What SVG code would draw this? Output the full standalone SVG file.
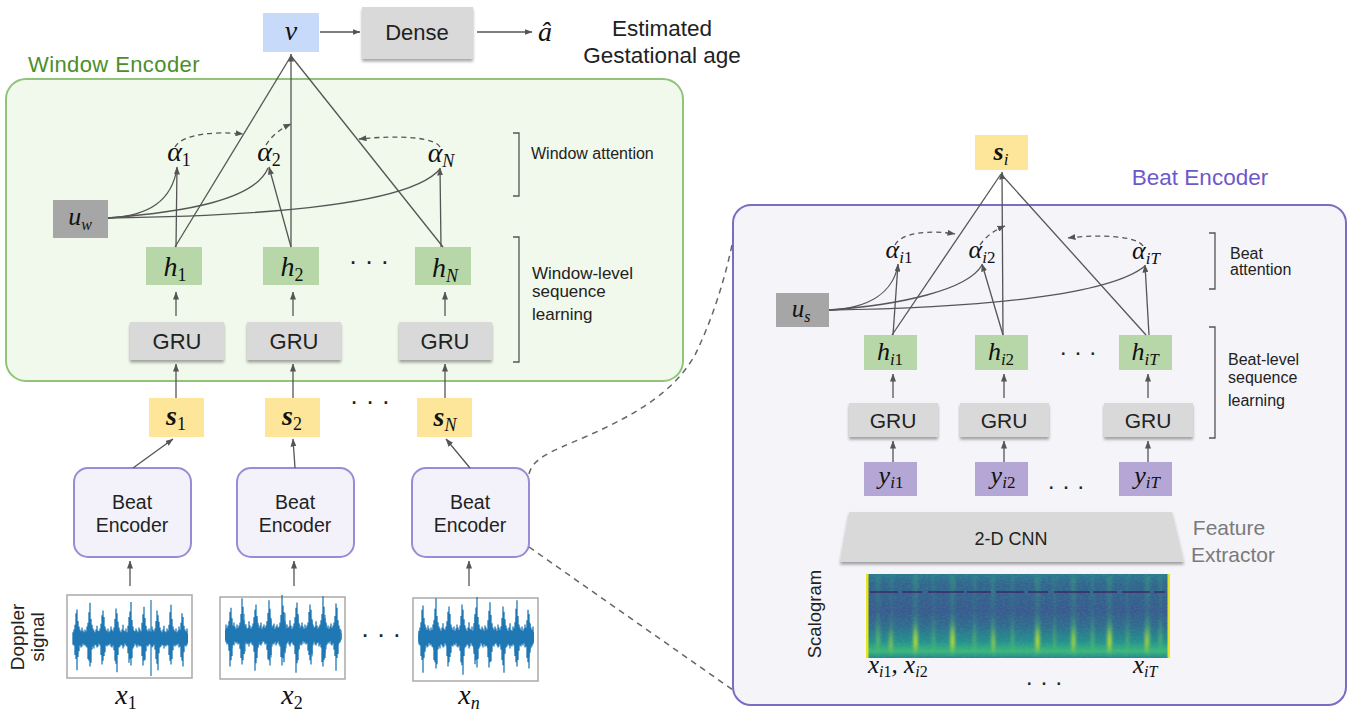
<svg xmlns="http://www.w3.org/2000/svg" xmlns:xlink="http://www.w3.org/1999/xlink" width="1355" height="711" viewBox="0 0 1355 711">
  <style>
    .sans { font-family: "Liberation Sans", Arial, sans-serif; fill: #222; }
    .math { font-family: "Liberation Serif", "Times New Roman", serif; font-style: italic; fill: #111; }
    .up { font-style: normal; }
    .line { fill: none; stroke: #555; stroke-width: 1.3; }
    .dash { fill: none; stroke: #555; stroke-width: 1.3; stroke-dasharray: 5 4; }
    .xdash { fill: none; stroke: #666; stroke-width: 1.5; stroke-dasharray: 6 5; }
    .gru { fill: #d9d9d9; filter: url(#shadow); }
    .hbox { fill: #b7d7a8; }
    .sbox { fill: #fde59a; }
    .ubox { fill: #a6a6a6; }
    .ybox { fill: #b4a7d6; }
    .benc { fill: #f3f2fa; stroke: #9b8bd6; stroke-width: 2; }
    .sig { fill: #fff; stroke: #a9a9a9; stroke-width: 1.5; }
    .brk { fill: none; stroke: #555; stroke-width: 1.3; }
  </style>
  <defs>
    <filter id="shadow" x="-10%" y="-20%" width="120%" height="150%">
      <feDropShadow dx="0" dy="2.5" stdDeviation="1.5" flood-color="#000" flood-opacity="0.35"/>
    </filter>
    <filter id="soft" x="-20%" y="-5%" width="140%" height="110%">
      <feGaussianBlur stdDeviation="1.4 2"/>
    </filter>
    <filter id="speckle" x="0" y="0" width="100%" height="100%">
      <feTurbulence type="fractalNoise" baseFrequency="0.35 0.6" numOctaves="2" seed="7"/>
      <feColorMatrix type="matrix" values="0 0 0 0 0.25  0 0 0 0 0.45  0 0 0 0 0.6  0 0 0 0.9 -0.35"/>
    </filter>
    <marker id="arr" markerUnits="userSpaceOnUse" markerWidth="8" markerHeight="6" refX="7.5" refY="3" orient="auto">
      <path d="M0,0 L8,3 L0,6 z" fill="#555"/>
    </marker>
    <linearGradient id="scaloBase" x1="0" y1="0" x2="0" y2="1">
      <stop offset="0" stop-color="#2a7a8e"/>
      <stop offset="0.12" stop-color="#31668e"/>
      <stop offset="0.45" stop-color="#375b8d"/>
      <stop offset="0.62" stop-color="#2f6c8e"/>
      <stop offset="0.8" stop-color="#238f8c"/>
      <stop offset="0.92" stop-color="#3bb77a"/>
      <stop offset="1" stop-color="#24878e"/>
    </linearGradient>
    <linearGradient id="streak" x1="0" y1="0" x2="0" y2="1">
      <stop offset="0" stop-color="#3fbc73" stop-opacity="0.35"/>
      <stop offset="0.45" stop-color="#35b779" stop-opacity="0.15"/>
      <stop offset="0.8" stop-color="#7ad151" stop-opacity="0.75"/>
      <stop offset="1" stop-color="#35b779" stop-opacity="0.2"/>
    </linearGradient>
    <linearGradient id="hot" x1="0" y1="0" x2="0" y2="1">
      <stop offset="0" stop-color="#fde725" stop-opacity="0"/>
      <stop offset="0.65" stop-color="#e5e419" stop-opacity="0.8"/>
      <stop offset="1" stop-color="#fde725" stop-opacity="0"/>
    </linearGradient>
    <!-- one Doppler waveform trace, centred on y=0 -->
    <g id="wave">
      <rect x="0" y="-5" width="115" height="10" fill="#1f77b4"/>
      <path fill="none" stroke="#1f77b4" stroke-width="1.3" d="M0 -6V7M1 -9V8M2 -14V18M3 -26V22M4 -30V34M5 -18V20M6 -12V14M7 -9V8M8 -7V10M9 -11V9M10 -8V6M11 -6V8M12 -9V7M13 -7V9M14 -12V10M15 -16V22M16 -27V24M17 -37V30M18 -20V26M19 -14V12M20 -10V9M21 -8V11M22 -6V7M23 -9V8M24 -13V10M25 -8V9M26 -7V6M27 -10V8M28 -15V18M29 -24V28M30 -29V24M31 -22V19M32 -12V15M33 -9V8M34 -7V9M35 -10V7M36 -6V8M37 -8V6M38 -12V9M39 -9V10M40 -7V8M41 -11V13M42 -20V24M43 -31V27M44 -26V36M45 -17V18M46 -11V10M47 -8V9M48 -6V7M49 -9V8M50 -14V11M51 -8V9M52 -7V6M53 -10V8M54 -6V9M55 -13V16M56 -22V26M57 -28V22M58 -38V29M59 -19V21M60 -12V11M61 -8V9M62 -7V6M63 -10V8M64 -8V10M65 -6V7M66 -11V9M67 -9V8M68 -7V9M69 -16V19M70 -25V29M71 -33V24M72 -21V23M73 -13V14M74 -9V8M75 -7V9M76 -10V7M77 -8V6M78 -6V8M79 -12V10M80 -9V9M81 -7V7M82 -10V12M83 -18V22M84 -29V27M85 -24V34M86 -17V16M87 -11V10M88 -8V9M89 -6V7M90 -9V8M91 -13V11M92 -7V8M93 -6V9M94 -10V7M95 -8V8M96 -14V18M97 -27V24M98 -35V28M99 -20V22M100 -12V13M101 -9V8M102 -7V9M103 -10V7M104 -6V8M105 -8V6M106 -12V10M107 -9V9M108 -16V20M109 -26V24M110 -22V30M111 -13V15M112 -9V8M113 -7V9M114 -10V7"/>
    </g>
  </defs>

  <!-- ============ Window encoder panel ============ -->
  <g id="window-encoder">
    <rect x="6" y="79" width="677" height="302" rx="20" fill="#f1f8ec" stroke="#8fc47a" stroke-width="2"/>
    <text class="sans" x="28" y="72" font-size="22" letter-spacing="0.4" style="fill:#4a8f2a">Window Encoder</text>
  </g>

  <!-- ============ Beat encoder panel ============ -->
  <g id="beat-encoder-panel">
    <rect x="733" y="205" width="613" height="500" rx="18" fill="#f4f4f9" stroke="#7d6bc4" stroke-width="2"/>
    <text class="sans" x="1200" y="185" font-size="22.5" text-anchor="middle" style="fill:#6f58c9">Beat Encoder</text>
  </g>

  <!-- ============ Output ============ -->
  <g id="node-v">
    <rect x="263" y="13" width="56" height="39" fill="#c8dafa"/>
    <text class="math" x="291" y="40" font-size="28" text-anchor="middle">v</text>
  </g>
  <g id="node-dense">
    <rect class="gru" x="362" y="7" width="111" height="52"/>
    <text class="sans" x="417" y="40" font-size="22" text-anchor="middle">Dense</text>
  </g>
  <g id="node-ahat">
    <text class="math" x="545" y="41" font-size="28" text-anchor="middle">â</text>
  </g>
  <g id="label-output">
    <text class="sans" x="662" y="36" font-size="22.5" text-anchor="middle">Estimated</text>
    <text class="sans" x="662" y="63" font-size="22.5" text-anchor="middle">Gestational age</text>
  </g>

  <!-- ============ Window attention ============ -->
  <g id="node-uw">
    <rect class="ubox" x="53" y="200" width="55" height="38"/>
    <text class="math" x="80" y="225" font-size="26" text-anchor="middle">u<tspan font-size="16" dy="5">w</tspan></text>
  </g>
  <g id="node-alpha1">
    <text class="math" x="179" y="161" font-size="28" text-anchor="middle">α<tspan class="up" font-size="18" dy="5">1</tspan></text>
  </g>
  <g id="node-alpha2">
    <text class="math" x="269" y="161" font-size="28" text-anchor="middle">α<tspan class="up" font-size="18" dy="5">2</tspan></text>
  </g>
  <g id="node-alphaN">
    <text class="math" x="441" y="162" font-size="28" text-anchor="middle">α<tspan font-size="18" dy="5">N</tspan></text>
  </g>
  <g id="label-window-attention">
    <path class="brk" d="M513,133 H519 V196 H513"/>
    <text class="sans" x="531" y="159" font-size="16">Window attention</text>
  </g>

  <!-- hidden states -->
  <g id="node-h1">
    <rect class="hbox" x="146" y="247" width="56" height="38"/>
    <text class="math" x="175" y="276" font-size="28" text-anchor="middle">h<tspan class="up" font-size="18" dy="5">1</tspan></text>
  </g>
  <g id="node-h2">
    <rect class="hbox" x="263" y="247" width="56" height="38"/>
    <text class="math" x="292" y="276" font-size="28" text-anchor="middle">h<tspan class="up" font-size="18" dy="5">2</tspan></text>
  </g>
  <g id="node-hN">
    <rect class="hbox" x="415" y="247" width="56" height="38"/>
    <text class="math" x="445" y="277" font-size="28" text-anchor="middle">h<tspan font-size="18" dy="5">N</tspan></text>
  </g>
  <g id="dots-h">
    <text class="sans" x="369" y="270" font-size="26" text-anchor="middle">· · ·</text>
  </g>
  <g id="label-window-level">
    <path class="brk" d="M513,237 H519 V362 H513"/>
    <text class="sans" x="532" y="279" font-size="17">Window-level</text>
    <text class="sans" x="532" y="297" font-size="17">sequence</text>
    <text class="sans" x="532" y="320" font-size="17">learning</text>
  </g>

  <!-- window GRUs -->
  <g id="node-gru-w1">
    <rect class="gru" x="130" y="322" width="94" height="38"/>
    <text class="sans" x="177" y="349" font-size="22" text-anchor="middle">GRU</text>
  </g>
  <g id="node-gru-w2">
    <rect class="gru" x="247" y="322" width="94" height="38"/>
    <text class="sans" x="294" y="349" font-size="22" text-anchor="middle">GRU</text>
  </g>
  <g id="node-gru-wN">
    <rect class="gru" x="399" y="322" width="93" height="38"/>
    <text class="sans" x="445" y="349" font-size="22" text-anchor="middle">GRU</text>
  </g>

  <!-- beat vectors -->
  <g id="node-s1">
    <rect class="sbox" x="149" y="398" width="55" height="39"/>
    <text class="math" x="176" y="425" font-size="28" font-weight="bold" text-anchor="middle">s<tspan class="up" font-weight="normal" font-size="18" dy="5">1</tspan></text>
  </g>
  <g id="node-s2">
    <rect class="sbox" x="265" y="398" width="55" height="39"/>
    <text class="math" x="292" y="425" font-size="28" font-weight="bold" text-anchor="middle">s<tspan class="up" font-weight="normal" font-size="18" dy="5">2</tspan></text>
  </g>
  <g id="node-sN">
    <rect class="sbox" x="417" y="398" width="55" height="39"/>
    <text class="math" x="445" y="426" font-size="28" font-weight="bold" text-anchor="middle">s<tspan font-weight="normal" font-size="18" dy="5">N</tspan></text>
  </g>
  <g id="dots-s">
    <text class="sans" x="370" y="410" font-size="26" text-anchor="middle">· · ·</text>
  </g>

  <!-- beat encoders -->
  <g id="node-benc1">
    <rect class="benc" x="74" y="468" width="117" height="89" rx="14"/>
    <text class="sans" x="132" y="509" font-size="19.5" text-anchor="middle">Beat</text>
    <text class="sans" x="132" y="532" font-size="19.5" text-anchor="middle">Encoder</text>
  </g>
  <g id="node-benc2">
    <rect class="benc" x="237" y="468" width="117" height="89" rx="14"/>
    <text class="sans" x="295" y="509" font-size="19.5" text-anchor="middle">Beat</text>
    <text class="sans" x="295" y="532" font-size="19.5" text-anchor="middle">Encoder</text>
  </g>
  <g id="node-benc3">
    <rect class="benc" x="412" y="468" width="117" height="89" rx="14"/>
    <text class="sans" x="470" y="509" font-size="19.5" text-anchor="middle">Beat</text>
    <text class="sans" x="470" y="532" font-size="19.5" text-anchor="middle">Encoder</text>
  </g>

  <!-- Doppler signals -->
  <g id="node-sig1">
    <rect class="sig" x="67" y="595" width="125" height="83"/>
    <use xlink:href="#wave" transform="translate(73,638) scale(1,0.95)"/>
    <path d="M151,600 V676" stroke="#1f77b4" stroke-width="1.2"/>
    <text class="math" x="126" y="704" font-size="28" text-anchor="middle">x<tspan class="up" font-size="18" dy="5">1</tspan></text>
  </g>
  <g id="node-sig2">
    <rect class="sig" x="220" y="597" width="125" height="82"/>
    <use xlink:href="#wave" transform="translate(340,635) scale(-1,1.05)"/>
    <use xlink:href="#wave" transform="translate(227,636) scale(1,0.6)" opacity="0.8"/>
    <text class="math" x="292" y="704" font-size="28" text-anchor="middle">x<tspan class="up" font-size="18" dy="5">2</tspan></text>
  </g>
  <g id="node-sig3">
    <rect class="sig" x="413" y="598" width="125" height="83"/>
    <use xlink:href="#wave" transform="translate(419,637) scale(1,1.05)"/>
    <use xlink:href="#wave" transform="translate(533,638) scale(-1,0.55)" opacity="0.8"/>
    <text class="math" x="469" y="704" font-size="28" text-anchor="middle">x<tspan font-size="18" dy="5">n</tspan></text>
  </g>
  <g id="dots-x">
    <text class="sans" x="381" y="643" font-size="26" text-anchor="middle">· · ·</text>
  </g>
  <g id="label-doppler">
    <text class="sans" transform="translate(24,637) rotate(-90)" font-size="19" text-anchor="middle">Doppler</text>
    <text class="sans" transform="translate(44,637) rotate(-90)" font-size="19" text-anchor="middle">signal</text>
  </g>

  <!-- ============ Beat encoder internals ============ -->
  <g id="node-si">
    <rect class="sbox" x="975" y="135" width="53" height="35"/>
    <text class="math" x="1001" y="160" font-size="26" font-weight="bold" text-anchor="middle">s<tspan font-weight="normal" font-size="17" dy="5">i</tspan></text>
  </g>
  <g id="node-us">
    <rect class="ubox" x="776" y="293" width="53" height="34"/>
    <text class="math" x="801" y="317" font-size="25" text-anchor="middle">u<tspan font-size="16" dy="5">s</tspan></text>
  </g>
  <g id="node-alpha-i1">
    <text class="math" x="899" y="258" font-size="26" text-anchor="middle">α<tspan font-size="17" dy="5">i</tspan><tspan class="up" font-size="17">1</tspan></text>
  </g>
  <g id="node-alpha-i2">
    <text class="math" x="982" y="258" font-size="26" text-anchor="middle">α<tspan font-size="17" dy="5">i</tspan><tspan class="up" font-size="17">2</tspan></text>
  </g>
  <g id="node-alpha-iT">
    <text class="math" x="1146" y="259" font-size="26" text-anchor="middle">α<tspan font-size="17" dy="5">iT</tspan></text>
  </g>
  <g id="label-beat-attention">
    <path class="brk" d="M1209,233 H1215 V289 H1209"/>
    <text class="sans" x="1230" y="259" font-size="16">Beat</text>
    <text class="sans" x="1230" y="275" font-size="16">attention</text>
  </g>

  <g id="node-hi1">
    <rect class="hbox" x="864" y="335" width="53" height="35"/>
    <text class="math" x="890" y="360" font-size="26" text-anchor="middle">h<tspan font-size="17" dy="5">i</tspan><tspan class="up" font-size="17">1</tspan></text>
  </g>
  <g id="node-hi2">
    <rect class="hbox" x="975" y="335" width="53" height="35"/>
    <text class="math" x="1001" y="360" font-size="26" text-anchor="middle">h<tspan font-size="17" dy="5">i</tspan><tspan class="up" font-size="17">2</tspan></text>
  </g>
  <g id="node-hiT">
    <rect class="hbox" x="1119" y="335" width="53" height="35"/>
    <text class="math" x="1145" y="360" font-size="26" text-anchor="middle">h<tspan font-size="17" dy="5">iT</tspan></text>
  </g>
  <g id="dots-hi">
    <text class="sans" x="1078" y="360" font-size="24" text-anchor="middle">· · ·</text>
  </g>
  <g id="label-beat-level">
    <path class="brk" d="M1209,327 H1215 V438 H1209"/>
    <text class="sans" x="1228" y="365" font-size="16">Beat-level</text>
    <text class="sans" x="1228" y="383" font-size="16">sequence</text>
    <text class="sans" x="1228" y="406" font-size="16">learning</text>
  </g>

  <g id="node-gru-b1">
    <rect class="gru" x="849" y="403" width="89" height="34"/>
    <text class="sans" x="893" y="428" font-size="21" text-anchor="middle">GRU</text>
  </g>
  <g id="node-gru-b2">
    <rect class="gru" x="960" y="403" width="89" height="34"/>
    <text class="sans" x="1004" y="428" font-size="21" text-anchor="middle">GRU</text>
  </g>
  <g id="node-gru-bT">
    <rect class="gru" x="1104" y="403" width="89" height="34"/>
    <text class="sans" x="1148" y="428" font-size="21" text-anchor="middle">GRU</text>
  </g>

  <g id="node-yi1">
    <rect class="ybox" x="864" y="462" width="53" height="34"/>
    <text class="math" x="891" y="484" font-size="26" text-anchor="middle">y<tspan font-size="17" dy="4">i</tspan><tspan class="up" font-size="17">1</tspan></text>
  </g>
  <g id="node-yi2">
    <rect class="ybox" x="975" y="462" width="53" height="34"/>
    <text class="math" x="1003" y="484" font-size="26" text-anchor="middle">y<tspan font-size="17" dy="4">i</tspan><tspan class="up" font-size="17">2</tspan></text>
  </g>
  <g id="node-yiT">
    <rect class="ybox" x="1119" y="462" width="53" height="34"/>
    <text class="math" x="1147" y="484" font-size="26" text-anchor="middle">y<tspan font-size="17" dy="4">iT</tspan></text>
  </g>
  <g id="dots-y">
    <text class="sans" x="1066" y="494" font-size="24" text-anchor="middle">· · ·</text>
  </g>

  <g id="node-cnn">
    <path d="M849,512 L1172,512 L1184,562 L840,562 Z" fill="#d9d9d9" filter="url(#shadow)"/>
    <text class="sans" x="1011" y="545" font-size="18" text-anchor="middle">2-D CNN</text>
  </g>
  <g id="label-feature-extractor">
    <text class="sans" x="1229" y="535" font-size="21" text-anchor="middle" style="fill:#7a7a7a">Feature</text>
    <text class="sans" x="1233" y="562" font-size="21" text-anchor="middle" style="fill:#7a7a7a">Extractor</text>
  </g>

  <g id="node-scalogram">
    <rect x="866" y="574" width="304" height="84" fill="url(#scaloBase)"/>
    <rect x="866" y="574" width="304" height="84" filter="url(#speckle)" opacity="0.35"/>
    <!-- brighter vertical ridges -->
    <g fill="url(#streak)" filter="url(#soft)">
      <rect x="876" y="576" width="4" height="80" opacity="0.8"/>
      <rect x="890" y="576" width="3" height="80" opacity="0.6"/>
      <rect x="913" y="576" width="5" height="80"/>
      <rect x="932" y="576" width="3" height="80" opacity="0.6"/>
      <rect x="950" y="576" width="5" height="80"/>
      <rect x="973" y="576" width="3" height="80" opacity="0.7"/>
      <rect x="991" y="576" width="4" height="80" opacity="0.8"/>
      <rect x="1011" y="576" width="3" height="80" opacity="0.6"/>
      <rect x="1035" y="576" width="5" height="80"/>
      <rect x="1053" y="576" width="3" height="80" opacity="0.6"/>
      <rect x="1071" y="576" width="5" height="80"/>
      <rect x="1091" y="576" width="3" height="80" opacity="0.7"/>
      <rect x="1107" y="576" width="5" height="80"/>
      <rect x="1126" y="576" width="3" height="80" opacity="0.6"/>
      <rect x="1145" y="576" width="5" height="80"/>
      <rect x="1159" y="576" width="3" height="80" opacity="0.7"/>
    </g>
    <g fill="url(#hot)" filter="url(#soft)">
      <rect x="889" y="628" width="3" height="26" opacity="0.6"/>
      <rect x="914" y="624" width="3" height="30"/>
      <rect x="951" y="622" width="3" height="32"/>
      <rect x="992" y="628" width="3" height="26" opacity="0.6"/>
      <rect x="1036" y="624" width="3" height="30"/>
      <rect x="1072" y="626" width="3" height="28" opacity="0.7"/>
      <rect x="1108" y="624" width="3" height="30"/>
      <rect x="1145" y="626" width="3" height="28" opacity="0.7"/>
    </g>
    <path d="M870,592 H1165" stroke="#40195e" stroke-width="1.6" stroke-dasharray="28 4 20 6 36 3 24 5" opacity="0.8"/>
    <rect x="866" y="574" width="2.5" height="84" fill="#e8e41f"/>
    <rect x="1167.5" y="574" width="2.5" height="84" fill="#e8e41f"/>
    <text class="sans" transform="translate(821,614) rotate(-90)" font-size="18.5" text-anchor="middle">Scalogram</text>
  </g>
  <g id="label-xi">
    <text class="math" x="868" y="673" font-size="25">x<tspan font-size="16" dy="4">i</tspan><tspan class="up" font-size="16">1</tspan><tspan dy="-4">, x</tspan><tspan font-size="16" dy="4">i</tspan><tspan class="up" font-size="16">2</tspan></text>
    <text class="math" x="1133" y="673" font-size="25">x<tspan font-size="16" dy="4">iT</tspan></text>
    <text class="sans" x="1044" y="690" font-size="24" text-anchor="middle">· · ·</text>
  </g>

  <!-- ============ Connectors ============ -->
  <g id="connectors">
    <!-- output head -->
    <path class="line" d="M320,32 L360,32" marker-end="url(#arr)"/>
    <path class="line" d="M477,32 L532,32" marker-end="url(#arr)"/>
    <path class="line" d="M175,247 L291,56"/>
    <path class="line" d="M291,247 L291,54" marker-end="url(#arr)"/>
    <path class="line" d="M443,247 L291,56"/>

    <!-- window attention -->
    <path class="line" d="M176,247 L177,167" marker-end="url(#arr)"/>
    <path class="line" d="M291,247 L269,167" marker-end="url(#arr)"/>
    <path class="line" d="M441,247 L440,168" marker-end="url(#arr)"/>
    <path class="line" d="M108,218 C150,216 172,200 177,168"/>
    <path class="line" d="M108,218 C185,212 255,200 268,168"/>
    <path class="line" d="M108,218 C260,216 410,205 440,169"/>
    <path class="dash" d="M175,147 C182,134 215,131 243,134" marker-end="url(#arr)"/>
    <path class="dash" d="M266,145 C272,135 282,128 291,124" marker-end="url(#arr)"/>
    <path class="dash" d="M440,147 C434,137 400,135 359,139" marker-end="url(#arr)"/>

    <!-- window sequence -->
    <path class="line" d="M176,316 L176,292" marker-end="url(#arr)"/>
    <path class="line" d="M293,316 L293,292" marker-end="url(#arr)"/>
    <path class="line" d="M445,316 L445,292" marker-end="url(#arr)"/>
    <path class="line" d="M176,398 L176,364" marker-end="url(#arr)"/>
    <path class="line" d="M293,398 L293,364" marker-end="url(#arr)"/>
    <path class="line" d="M445,398 L445,364" marker-end="url(#arr)"/>
    <path class="line" d="M133,468 L173,439" marker-end="url(#arr)"/>
    <path class="line" d="M295,468 L293,439" marker-end="url(#arr)"/>
    <path class="line" d="M470,468 L446,439" marker-end="url(#arr)"/>
    <path class="line" d="M130,586 L130,561" marker-end="url(#arr)"/>
    <path class="line" d="M294,586 L294,561" marker-end="url(#arr)"/>
    <path class="line" d="M469,586 L469,561" marker-end="url(#arr)"/>

    <!-- zoom-in guides -->
    <path class="xdash" d="M529,474 C533,458 550,452 585,437 C640,413 675,390 695,355 C712,320 725,280 733,240"/>
    <path class="xdash" d="M529,547 L733,690"/>

    <!-- beat encoder head -->
    <path class="line" d="M892,335 L1001,174"/>
    <path class="line" d="M1003,335 L1002,172" marker-end="url(#arr)"/>
    <path class="line" d="M1146,335 L1001,174"/>

    <!-- beat attention -->
    <path class="line" d="M893,335 L898,264" marker-end="url(#arr)"/>
    <path class="line" d="M1003,335 L982,264" marker-end="url(#arr)"/>
    <path class="line" d="M1149,335 L1145,265" marker-end="url(#arr)"/>
    <path class="line" d="M829,310 C870,308 893,292 898,265"/>
    <path class="line" d="M829,310 C900,305 968,290 982,265"/>
    <path class="line" d="M829,310 C980,308 1110,295 1145,266"/>
    <path class="dash" d="M895,245 C902,232 930,230 955,234" marker-end="url(#arr)"/>
    <path class="dash" d="M980,245 C986,236 995,230 1005,226" marker-end="url(#arr)"/>
    <path class="dash" d="M1143,246 C1137,236 1100,234 1068,238" marker-end="url(#arr)"/>

    <!-- beat sequence -->
    <path class="line" d="M893,398 L893,374" marker-end="url(#arr)"/>
    <path class="line" d="M1004,398 L1004,374" marker-end="url(#arr)"/>
    <path class="line" d="M1148,398 L1148,374" marker-end="url(#arr)"/>
    <path class="line" d="M893,462 L893,441" marker-end="url(#arr)"/>
    <path class="line" d="M1004,462 L1004,441" marker-end="url(#arr)"/>
    <path class="line" d="M1148,462 L1148,441" marker-end="url(#arr)"/>
  </g>
</svg>
